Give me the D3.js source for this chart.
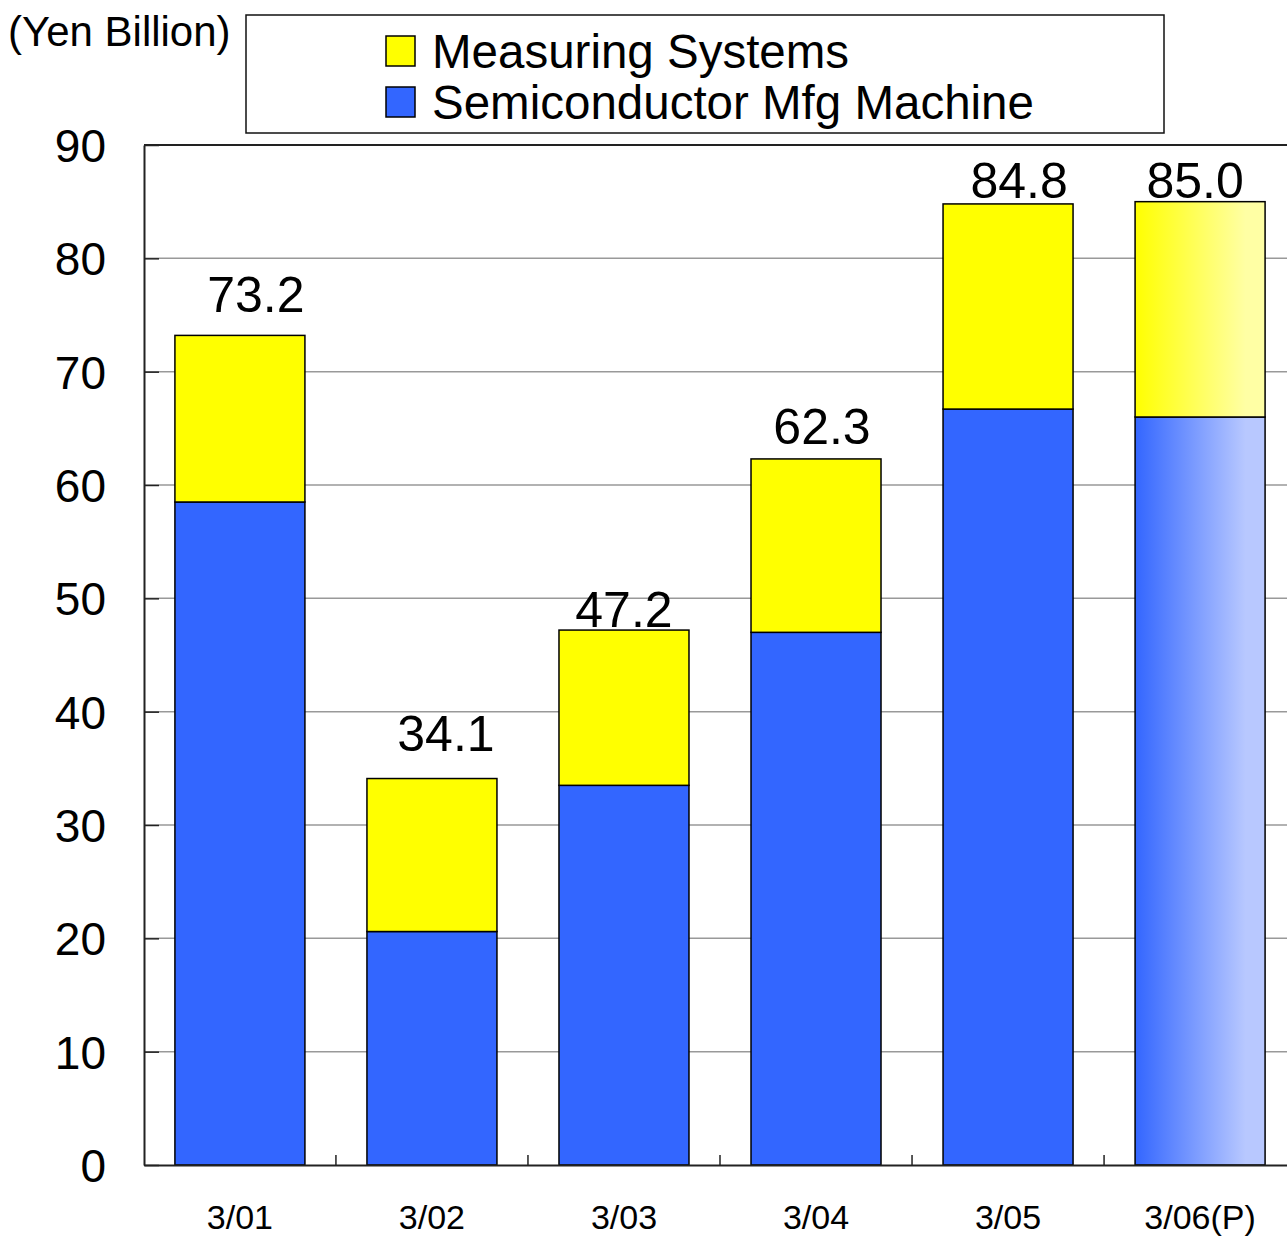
<!DOCTYPE html>
<html><head><meta charset="utf-8">
<script src="https://cdn.jsdelivr.net/npm/d3@7"></script>
<style>html,body{margin:0;padding:0;background:#fff;} svg{display:block;font-family:Arial,"Liberation Sans",sans-serif;}</style>
</head><body>
<script>
const categories = ["3/01","3/02","3/03","3/04","3/05","3/06(P)"];
const semiconductor = [58.5, 20.6, 33.5, 47.0, 66.7, 66.0];
const totals = [73.2, 34.1, 47.2, 62.3, 84.8, 85.0];
const measuring = totals.map((t,i)=> +(t - semiconductor[i]).toFixed(1));
const yTicks = [0,10,20,30,40,50,60,70,80,90];
const seriesNames = ["Measuring Systems","Semiconductor Mfg Machine"];
// label nudges (px), as placed in the reference
const labelGap = [23, 28, 3, 15, 6, 4];
const labelDx = [16, 14, 0, 6, 11, -5];

(function(){
const W = 1287, H = 1236;
const svg = d3.select("body").append("svg").attr("width",W).attr("height",H);
const defs = svg.append("defs");
function grad(id, c0, c1){
  const g = defs.append("linearGradient").attr("id",id).attr("x1","0%").attr("x2","100%").attr("y1","0%").attr("y2","0%");
  g.append("stop").attr("offset","0%").attr("stop-color",c0);
  g.append("stop").attr("offset","85%").attr("stop-color",c1);
  g.append("stop").attr("offset","100%").attr("stop-color",c1);
}
grad("gy","#FFFF00","#FFFFA4");
grad("gb","#3366FF","#B8C8FF");

const pLeft=144, pTop=145, pBottom=1165, pRight=1296;
const x = d3.scaleBand().domain(categories).range([pLeft,pRight]).paddingInner(0.323).paddingOuter(0.161);
const y = d3.scaleLinear().domain([0,90]).range([pBottom,pTop]);

// gridlines
svg.append("g").selectAll("line").data(yTicks.slice(1)).join("line")
  .attr("x1",pLeft).attr("x2",pRight).attr("y1",d=>y(d)).attr("y2",d=>y(d))
  .attr("stroke","#999").attr("stroke-width",1.5);

// frame top
svg.append("line").attr("x1",pLeft).attr("x2",pRight).attr("y1",pTop).attr("y2",pTop).attr("stroke","#222").attr("stroke-width",2);

const last = categories.length-1;
const gBars = svg.append("g");
categories.forEach((c,i)=>{
  gBars.append("rect").attr("x",x(c)).attr("width",x.bandwidth())
    .attr("y",y(semiconductor[i])).attr("height",y(0)-y(semiconductor[i]))
    .attr("fill", i===last ? "url(#gb)" : "#3366FF").attr("stroke","#000").attr("stroke-width",1.5);
  gBars.append("rect").attr("x",x(c)).attr("width",x.bandwidth())
    .attr("y",y(semiconductor[i]+measuring[i])).attr("height",y(semiconductor[i])-y(semiconductor[i]+measuring[i]))
    .attr("fill", i===last ? "url(#gy)" : "#FFFF00").attr("stroke","#000").attr("stroke-width",1.5);
  svg.append("text").attr("x",x(c)+x.bandwidth()/2+labelDx[i]).attr("y",y(totals[i])-labelGap[i])
    .attr("text-anchor","middle").attr("font-size",50).attr("fill","#000").text(totals[i].toFixed(1));
});

// y axis
const yAxis = d3.axisLeft(y).tickValues(yTicks).tickSizeInner(-15).tickSizeOuter(0).tickPadding(38);
const ya = svg.append("g").attr("transform",`translate(${pLeft},0)`).call(yAxis);
ya.select(".domain").attr("stroke","#222").attr("stroke-width",2);
ya.selectAll(".tick line").attr("stroke","#222").attr("stroke-width",1.5);
ya.selectAll("text").attr("font-size",46).attr("font-family","Arial,'Liberation Sans',sans-serif").attr("fill","#000").attr("dy","0.36em")
  .attr("x",-38);

// x axis
const xAxis = d3.axisBottom(x).tickSize(0).tickPadding(40);
const xa = svg.append("g").attr("transform",`translate(0,${pBottom})`).call(xAxis);
xa.select(".domain").attr("stroke","#222").attr("stroke-width",2);
xa.selectAll("text").attr("font-size",34).attr("font-family","Arial,'Liberation Sans',sans-serif").attr("fill","#000");
const bounds = categories.slice(1).map(c=>x(c)-x.step()*x.paddingInner()/2);
svg.append("g").selectAll("line").data(bounds).join("line")
  .attr("x1",d=>d).attr("x2",d=>d).attr("y1",pBottom).attr("y2",pBottom-10)
  .attr("stroke","#222").attr("stroke-width",1.5);

// unit label
svg.append("text").attr("x",8).attr("y",46).attr("font-size",42).text("(Yen Billion)");

// legend
svg.append("rect").attr("x",246).attr("y",15).attr("width",918).attr("height",118)
  .attr("fill","#fff").attr("stroke","#111").attr("stroke-width",1.5);
const legColors = ["#FFFF00","#3366FF"];
seriesNames.forEach((n,i)=>{
  svg.append("rect").attr("x",386).attr("y",36+i*51).attr("width",29).attr("height",30)
    .attr("fill",legColors[i]).attr("stroke","#000").attr("stroke-width",1.5);
  svg.append("text").attr("x",432).attr("y",68+i*51).attr("font-size",47.5).text(n);
});
})();
</script>
</body></html>
